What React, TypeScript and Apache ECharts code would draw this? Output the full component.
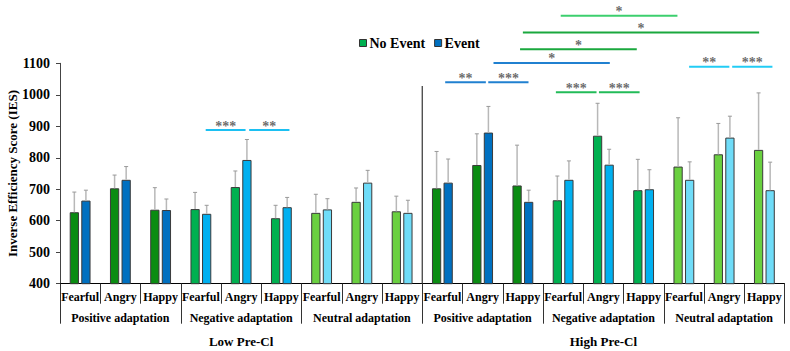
import React, { useEffect, useRef } from "react";
import * as echarts from "echarts";

const categories = [
  "Fearful", "Angry", "Happy", "Fearful", "Angry", "Happy", "Fearful", "Angry", "Happy",
  "Fearful", "Angry", "Happy", "Fearful", "Angry", "Happy", "Fearful", "Angry", "Happy",
];
const adaptations = [
  "Positive adaptation", "Negative adaptation", "Neutral adaptation",
  "Positive adaptation", "Negative adaptation", "Neutral adaptation",
];
const groups = ["Low Pre-Cl", "High Pre-Cl"];
const yTitle = "Inverse Efficiency Score (IES)";
const yTicks = { min: 400, max: 1100, step: 100 };

const noEvent = [627, 703, 635, 637, 707, 608, 625, 660, 630, 703, 777, 712, 665, 870, 697, 772, 811, 825];
const noEventUpper = [691, 745, 705, 690, 758, 649, 684, 704, 678, 820, 876, 840, 742, 973, 795, 927, 909, 1006];
const event = [664, 730, 634, 622, 793, 643, 636, 721, 625, 721, 880, 660, 730, 778, 700, 730, 864, 697];
const eventUpper = [697, 772, 669, 649, 858, 674, 670, 760, 665, 796, 963, 697, 790, 827, 762, 787, 932, 786];

const greenShades = ["#0a8c12", "#00b050", "#6ad040"];
const blueShades = ["#0070c0", "#00b0f0", "#6fdcf8"];

// significance annotations: [x1, x2] in category units, y in score units
const sigX1 = [3.62, 4.7, 12.44, 11.5, 11.43, 10.77, 9.57, 10.64, 12.32, 13.39, 15.63, 16.7];
const sigX2 = [4.61, 5.7, 15.34, 17.37, 14.33, 13.66, 10.58, 11.64, 13.33, 14.4, 16.63, 17.7];
const sigY = [888, 888, 1251, 1198, 1145, 1101, 1040, 1040, 1008, 1008, 1089, 1089];
const sigStars = ["***", "**", "*", "*", "*", "*", "**", "***", "***", "***", "**", "***"];
const sigColors = [
  "#1cc0f2", "#1cc0f2", "#3ccf6e", "#1aa83e", "#1aa83e", "#2080d0",
  "#2080d0", "#2080d0", "#22bb58", "#22bb58", "#22ccf5", "#22ccf5",
];
const dividerX = 9;
const dividerTop = 1028;

const FONT = "Liberation Serif";

export default function App() {
  const ref = useRef<HTMLDivElement>(null);
  useEffect(() => {
    if (!ref.current) return;
    const chart = echarts.init(ref.current, undefined, { renderer: "svg" });
    const barW = 0.23;
    const gap = 0.25;

    const errData: any[] = [];
    noEvent.forEach((v, i) => errData.push([i, v, noEventUpper[i], -1]));
    event.forEach((v, i) => errData.push([i, v, eventUpper[i], 1]));

    const sigSeries: any[] = sigY.map((y, k) => ({
      type: "line",
      xAxisIndex: 3,
      yAxisIndex: 0,
      data: [[sigX1[k], y], [sigX2[k], y]],
      symbol: "none",
      clip: false,
      silent: true,
      lineStyle: { color: sigColors[k], width: 2 },
      z: 5,
    }));

    const option: any = {
      animation: false,
      backgroundColor: "#ffffff",
      textStyle: { fontFamily: FONT },
      grid: { left: 60, right: 5.5, top: 63.3, bottom: 67.3, containLabel: false, outerBoundsMode: "none" },
      graphic: [
        {
          type: "text",
          x: 12,
          y: 173.5,
          rotation: Math.PI / 2,
          style: {
            text: yTitle,
            fontFamily: FONT,
            fontSize: 13,
            fontWeight: "bold",
            fill: "#000",
            textAlign: "center",
            textVerticalAlign: "middle",
          },
        },
      ],
      legend: {
        data: ["No Event", "Event"],
        left: 354,
        top: 31,
        itemWidth: 7,
        itemHeight: 7,
        itemGap: 9,
        icon: "rect",
        itemStyle: { borderColor: "#333", borderWidth: 1 },
        textStyle: { fontFamily: FONT, fontSize: 14, fontWeight: "bold", color: "#000", padding: [0, 0, 0, -2] },
      },
      xAxis: [
        {
          type: "category",
          data: categories,
          position: "bottom",
          axisLine: { show: true, lineStyle: { color: "#000", width: 1 } },
          axisTick: { show: true, length: 20, lineStyle: { color: "#333" } },
          axisLabel: { interval: 0, margin: 7, fontFamily: FONT, fontSize: 12, fontWeight: "bold", color: "#000" },
          splitLine: { show: false },
        },
        {
          type: "category",
          data: adaptations,
          position: "bottom",
          axisLine: { show: false },
          axisTick: { show: true, length: 40, lineStyle: { color: "#333" } },
          axisLabel: { interval: 0, margin: 28, fontFamily: FONT, fontSize: 12, fontWeight: "bold", color: "#000" },
          splitLine: { show: false },
        },
        {
          type: "category",
          data: groups,
          position: "bottom",
          axisLine: { show: false },
          axisTick: { show: false },
          axisLabel: { interval: 0, margin: 51, fontFamily: FONT, fontSize: 13, fontWeight: "bold", color: "#000" },
          splitLine: { show: false },
        },
        { type: "value", min: 0, max: 18, show: false },
      ],
      yAxis: [
        {
          type: "value",
          min: yTicks.min,
          max: yTicks.max,
          interval: yTicks.step,
          axisLine: { show: true, lineStyle: { color: "#444", width: 1 } },
          axisTick: { show: true, length: 4, lineStyle: { color: "#444" } },
          axisLabel: {
            margin: 10,
            fontFamily: FONT,
            fontSize: 14,
            fontWeight: "bold",
            color: "#000",
            formatter: (v: number) => String(v),
          },
          splitLine: { show: false },
        },
      ],
      series: [
        {
          type: "bar",
          name: "No Event",
          xAxisIndex: 0,
          barWidth: barW * 100 + "%",
          barGap: gap * 100 + "%",
          itemStyle: { color: "#00b050", borderColor: "#3a3a3a", borderWidth: 1 },
          data: noEvent.map((v, i) => ({ value: v, itemStyle: { color: greenShades[Math.floor(i / 3) % 3] } })),
          z: 2,
        },
        {
          type: "bar",
          name: "Event",
          xAxisIndex: 0,
          barWidth: barW * 100 + "%",
          barGap: gap * 100 + "%",
          itemStyle: { color: "#0070c0", borderColor: "#3a3a3a", borderWidth: 1 },
          data: event.map((v, i) => ({ value: v, itemStyle: { color: blueShades[Math.floor(i / 3) % 3] } })),
          z: 2,
        },
        {
          type: "custom",
          xAxisIndex: 0,
          yAxisIndex: 0,
          silent: true,
          clip: false,
          z: 3,
          encode: { x: 0, y: 1 },
          data: errData,
          renderItem: (params: any, api: any) => {
            const i = api.value(0);
            const mean = api.value(1);
            const up = api.value(2);
            const side = api.value(3);
            const c = api.coord([i, mean]);
            const t = api.coord([i, up]);
            const bw = api.size([1, 0])[0];
            const x = c[0] + side * bw * barW * (1 + gap) / 2;
            return {
              type: "group",
              children: [
                { type: "line", shape: { x1: x, y1: c[1], x2: x, y2: t[1] }, style: { stroke: "#b8b8b8", lineWidth: 1.5 } },
                { type: "line", shape: { x1: x - 2, y1: t[1], x2: x + 2, y2: t[1] }, style: { stroke: "#999", lineWidth: 1 } },
              ],
            };
          },
        },
        {
          type: "line",
          xAxisIndex: 3,
          yAxisIndex: 0,
          data: [[dividerX, yTicks.min], [dividerX, dividerTop]],
          symbol: "none",
          clip: false,
          silent: true,
          lineStyle: { color: "#333", width: 1.2 },
          z: 4,
        },
        ...sigSeries,
        {
          type: "scatter",
          xAxisIndex: 3,
          yAxisIndex: 0,
          symbolSize: 0,
          clip: false,
          silent: true,
          z: 6,
          data: sigY.map((y, k) => [(sigX1[k] + sigX2[k]) / 2, y]),
          label: {
            show: true,
            position: "inside",
            offset: [0, -4],
            formatter: (p: any) => sigStars[p.dataIndex],
            fontFamily: FONT,
            fontSize: 14,
            fontWeight: "bold",
            color: "#444",
          },
        },
      ],
    };
    chart.setOption(option);
    return () => chart.dispose();
  }, []);
  return (
    <div
      ref={ref}
      style={{ position: "fixed", left: 0, top: 0, width: 790, height: 351, background: "#fff" }}
    />
  );
}
